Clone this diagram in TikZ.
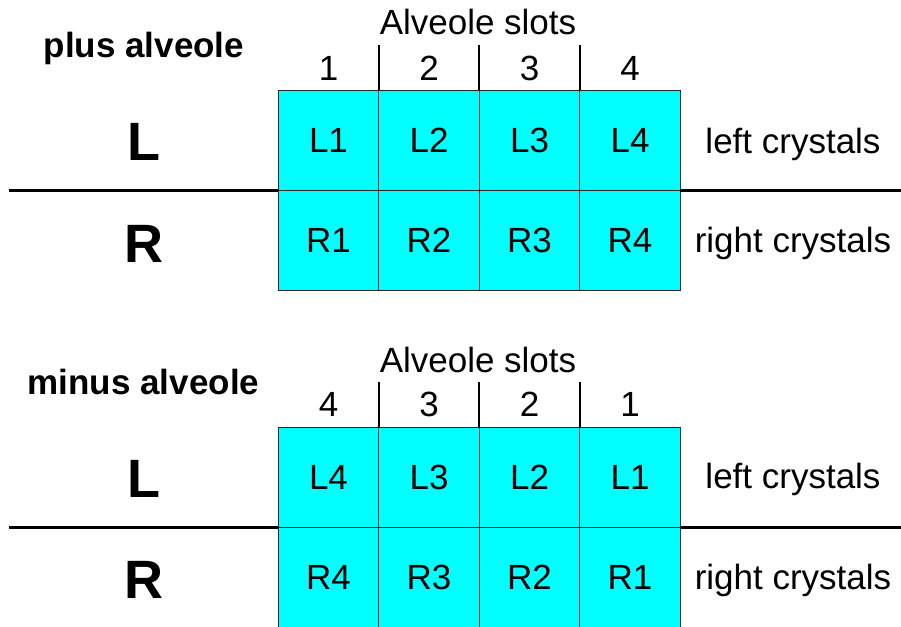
\documentclass[tikz,border=0pt]{standalone}
\usepackage{fontspec}
\setmainfont{Liberation Sans}
\definecolor{aqua}{RGB}{0,255,255}
\begin{document}
\begin{tikzpicture}[x=1pt,y=-1pt,
  cell/.style={draw=black!85, fill=aqua, line width=1pt, minimum width=100.5pt, minimum height=100pt,
    inner sep=0pt, outer sep=0pt, font=\fontsize{35}{40}\selectfont},
  txt/.style={anchor=base, inner sep=0pt, font=\fontsize{35}{40}\selectfont},
  title/.style={anchor=base, inner sep=0pt, font=\fontsize{35}{40}\selectfont\bfseries},
  big/.style={anchor=base, inner sep=0pt, font=\fontsize{54}{60}\selectfont\bfseries},
  sep/.style={line width=3pt},
  tick/.style={line width=2pt}]
\useasboundingbox (0,0) rectangle (901,626);

% ---------- plus alveole ----------
\node[title] (ptitle) at (144,57) {plus alveole};
\node[txt] (pslots) at (478,35) {Alveole slots};
\foreach \i/\n in {1/1,2/2,3/3,4/4}{
  \node[txt] (pn\i) at ({228+100.5*\i},80) {\n};
  \node[cell] (pL\i) at ({228+100.5*\i},140) {L\n};
  \node[cell] (pR\i) at ({228+100.5*\i},240) {R\n};
}
\foreach \i in {2,3,4}{
  \coordinate (pt\i) at (pL\i.north west |- 0,45);
  \draw[tick] (pt\i) -- (pL\i.north west);
}
\node[big] (pLL) at (144,160) {L};
\node[big] (pRR) at (144,262) {R};
\node[txt] (pleft) at (793,153) {left crystals};
\node[txt] (pright) at (793,252) {right crystals};
\coordinate (psl) at (9,190);
\coordinate (psr) at (901,190);
\draw[sep] (psl) -- (pL1.south west);
\draw[sep] (pL4.south east) -- (psr);

% ---------- minus alveole ----------
\node[title] (mtitle) at (143.5,394) {minus alveole};
\node[txt] (mslots) at (478,372) {Alveole slots};
\foreach \i/\n in {1/4,2/3,3/2,4/1}{
  \node[txt] (mn\i) at ({228+100.5*\i},416) {\n};
  \node[cell] (mL\i) at ({228+100.5*\i},477) {L\n};
  \node[cell] (mR\i) at ({228+100.5*\i},577) {R\n};
}
\foreach \i in {2,3,4}{
  \coordinate (mt\i) at (mL\i.north west |- 0,382);
  \draw[tick] (mt\i) -- (mL\i.north west);
}
\node[big] (mLL) at (144,497) {L};
\node[big] (mRR) at (144,598) {R};
\node[txt] (mleft) at (793,488) {left crystals};
\node[txt] (mright) at (793,589) {right crystals};
\coordinate (msl) at (9,527);
\coordinate (msr) at (901,527);
\draw[sep] (msl) -- (mL1.south west);
\draw[sep] (mL4.south east) -- (msr);
\end{tikzpicture}
\end{document}
